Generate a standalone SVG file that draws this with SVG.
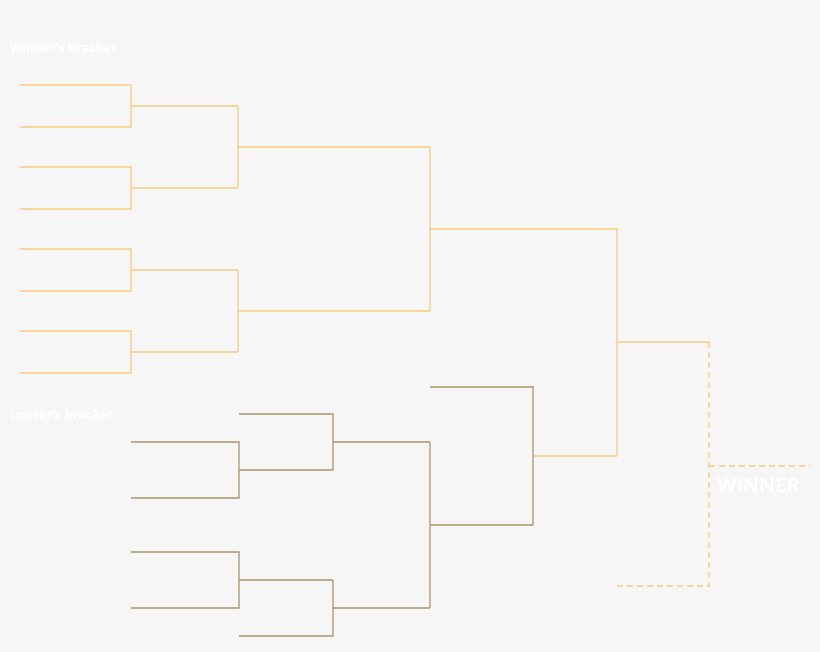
<svg xmlns="http://www.w3.org/2000/svg" width="820" height="652" viewBox="0 0 820 652">
<style>
.w{fill:none;stroke:#f6cc7e;stroke-width:1.3}
.l{fill:none;stroke:#a8946c;stroke-width:1.3}
.d{fill:none;stroke:#f6cc7e;stroke-width:1.3;stroke-dasharray:6 4}
.lab{font-family:"Open Sans","Noto Sans",sans-serif;font-weight:bold;font-size:12.6px;fill:#ffffff}
.win{font-family:"Open Sans","Noto Sans",sans-serif;font-weight:600;font-size:20.6px;fill:#ffffff}
</style>
<rect width="820" height="652" fill="#f6f6f6"/>
<g id="labels">
<text class="lab" x="10" y="52">Winner’s bracket</text>
<text class="lab" x="10" y="419">Looser’s bracket</text>
</g>
<g id="connectors">
<g id="winners-bracket">
<path class="w" d="M20 85H131V127H20M131 106H238"/>
<path class="w" d="M20 167H131V209H20M131 188H238"/>
<path class="w" d="M20 249H131V291H20M131 270H238"/>
<path class="w" d="M20 331H131V373H20M131 352H238"/>
<path class="w" d="M238 106V188M238 147H430"/>
<path class="w" d="M238 270V352M238 311H430"/>
<path class="w" d="M430 147V311M430 229H617"/>
<path class="w" d="M617 229V456M617 342H709"/>
<path class="w" d="M533 456H617"/>
</g>
<g id="losers-bracket">
<path class="l" d="M131 442H239V498H131M239 470H333"/>
<path class="l" d="M239 414H333V470M333 442H430"/>
<path class="l" d="M131 552H239V608H131M239 580H333"/>
<path class="l" d="M239 636H333V580M333 608H430"/>
<path class="l" d="M430 442V608M430 525H533"/>
<path class="l" d="M430 387H533V525"/>
</g>
<g id="final">
<path class="d" d="M709 342V586H617M709 466H810"/>
</g>
</g>
<g id="winner">
<text class="win" x="717" y="492">WINNER</text>
</g>
</svg>
